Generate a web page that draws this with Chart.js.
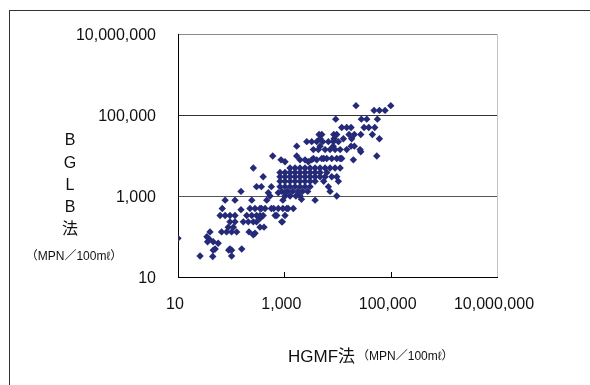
<!DOCTYPE html>
<html>
<head>
<meta charset="utf-8">
<script src="https://cdn.jsdelivr.net/npm/chart.js@4.4.1/dist/chart.umd.min.js"></script>
<style>
  html, body { margin: 0; padding: 0; background: #fff; }
  #wrap { position: relative; width: 590px; height: 385px; }
  #frame { position: absolute; left: 9px; top: 10px; right: 0; bottom: 0; border-left: 1px solid #333; border-top: 1px solid #333; }
  canvas { position: absolute; left: 0; top: 0; }
</style>
</head>
<body>
<div id="wrap">
  <div id="frame"></div>
  <canvas id="scatter" width="590" height="385"></canvas>
</div>
<script>
// BGLB MPN levels and the HGMF counts observed at each level
const bglbLevels = [
  170000, 130000, 79000, 49000, 33000, 26000, 22000, 17000, 14000, 12400,
  9700, 8400, 7800, 7000, 4900, 3800, 3000, 2300, 1700, 1300,
  1200, 1000, 830, 790, 490, 460, 330, 280, 230, 170,
  130, 120, 110, 99, 90, 85, 74, 68, 49, 46,
  33, 32
];
const hgmfByLevel = [
  [22300, 100500],
  [48700, 61400, 78500],
  [9270, 28100, 35500, 56300],
  [12000, 14900, 18000, 31600, 38700, 50200],
  [4500, 5060, 8510, 9680, 16500, 20750, 27400, 45300],
  [4700, 8610, 12900, 18500, 61400],
  [2640, 3270, 4070, 5280, 6730, 8360, 10400],
  [1710, 4700, 8300, 18000, 20750],
  [3520, 4370, 5840, 7250, 9000, 11200, 14900, 26600],
  [27400],
  [605, 1710, 54800],
  [3520, 5060, 5500, 6280, 7800, 9680, 11200, 12000],
  [867, 1970, 2450, 3270, 4070, 19900],
  [1030, 2830],
  [261, 1280, 1590, 1970, 2450, 3050, 3790, 4700, 5840, 7250, 9000, 11200],
  [830, 1030, 1280, 1590, 1970, 2450, 3050, 3790, 4700, 6280],
  [400, 830, 1030, 1280, 1590, 1970, 2450, 3050, 3790, 4700, 5840, 7800, 9680],
  [830, 1030, 1280, 1590, 1970, 2450, 3050, 3790, 5500, 10400],
  [300, 370, 570, 830, 1030, 1280, 1590, 1970, 2450, 3050, 6730],
  [153, 900, 1150, 1430, 1790, 2200, 2750, 7250],
  [500, 770, 1030],
  [538, 1030, 1280, 1650, 1970, 9680],
  [2100],
  [77, 118, 244, 467, 940, 3790],
  [68, 226, 281, 349, 370, 434, 570, 630, 770, 940, 1110, 1180, 1476],
  [153],
  [62, 77, 95, 118, 196, 244, 300, 349, 400, 670, 719, 1030],
  [349],
  [95, 118, 169, 210, 261, 300, 893, 917],
  [88, 110, 349, 415],
  [40, 66, 82, 102, 127, 217],
  [281],
  [261],
  [35],
  [10],
  [39],
  [36, 46],
  [57],
  [50, 95, 158],
  [46, 90, 102],
  [26, 102],
  [45]
];
const axisTicks = [10, 1000, 100000, 10000000];

const yTitleLetters = ['B', 'G', 'L', 'B', '法'];
const unitText = '（MPN／100mℓ）';
const xTitleText = 'HGMF法';

const points = [];
bglbLevels.forEach((y, i) => {
  hgmfByLevel[i].forEach(x => points.push({ x, y }));
});

const FONT = "'Liberation Sans', Arial, 'Noto Sans CJK JP', sans-serif";
const fmt = v => Number(v).toLocaleString('en-US');
const setTicks = scale => { scale.ticks = axisTicks.map(v => ({ value: v })); };

// inward tick marks on the x axis, plus the axis titles
const extras = {
  id: 'extras',
  afterDraw(chart) {
    const { ctx, chartArea, scales } = chart;
    ctx.save();
    ctx.strokeStyle = '#000';
    ctx.lineWidth = 1;
    [1000, 100000].forEach(v => {
      const px = Math.round(scales.x.getPixelForValue(v)) + 0.5;
      ctx.beginPath();
      ctx.moveTo(px, chartArea.bottom - 5);
      ctx.lineTo(px, chartArea.bottom);
      ctx.stroke();
    });

    ctx.fillStyle = '#111';
    ctx.textBaseline = 'middle';
    ctx.textAlign = 'center';
    ctx.font = '16px ' + FONT;
    yTitleLetters.forEach((t, i) => ctx.fillText(t, 70, 141 + i * 22.2));
    ctx.font = '12px ' + FONT;
    ctx.fillText(unitText, 74, 257);

    ctx.textAlign = 'left';
    ctx.font = '17px ' + FONT;
    ctx.fillText(xTitleText, 288, 357);
    const w = ctx.measureText(xTitleText).width;
    ctx.font = '12px ' + FONT;
    ctx.fillText(unitText, 288 + w + 2, 357);
    ctx.restore();
  }
};

new Chart(document.getElementById('scatter'), {
  type: 'scatter',
  data: {
    datasets: [{
      data: points,
      backgroundColor: '#252a78',
      borderWidth: 0,
      pointStyle: 'rectRot',
      pointRadius: 3.7,
      pointHoverRadius: 3.7
    }]
  },
  plugins: [extras],
  options: {
    responsive: false,
    animation: false,
    layout: { padding: { left: 0, right: 93, top: 34, bottom: 0 } },
    plugins: { legend: { display: false }, tooltip: { enabled: false } },
    scales: {
      x: {
        type: 'logarithmic',
        min: 10,
        max: 10000000,
        afterBuildTicks: setTicks,
        afterFit(scale) { scale.height = 108; },
        grid: {
          drawTicks: false,
          color: c => c.tick && c.tick.value === 10000000 ? '#c4c4c4' : 'rgba(0,0,0,0)'
        },
        border: { display: true, color: '#000', width: 1 },
        ticks: {
          autoSkip: false,
          maxRotation: 0,
          padding: 18,
          labelOffset: -3,
          color: '#111',
          font: { size: 16, family: FONT },
          callback: fmt
        }
      },
      y: {
        type: 'logarithmic',
        min: 10,
        max: 10000000,
        afterBuildTicks: setTicks,
        afterFit(scale) { scale.width = 178; },
        grid: {
          drawTicks: false,
          color: c => {
            const v = c.tick && c.tick.value;
            if (v === 10000000) return '#8a8a8a';
            if (v === 100000) return '#333';
            if (v === 1000) return '#555';
            return 'rgba(0,0,0,0)';
          }
        },
        border: { display: true, color: '#000', width: 1 },
        ticks: {
          autoSkip: false,
          padding: 22,
          labelOffset: 2,
          color: '#111',
          font: { size: 16, family: FONT },
          callback: fmt
        }
      }
    }
  }
});
</script>
</body>
</html>
